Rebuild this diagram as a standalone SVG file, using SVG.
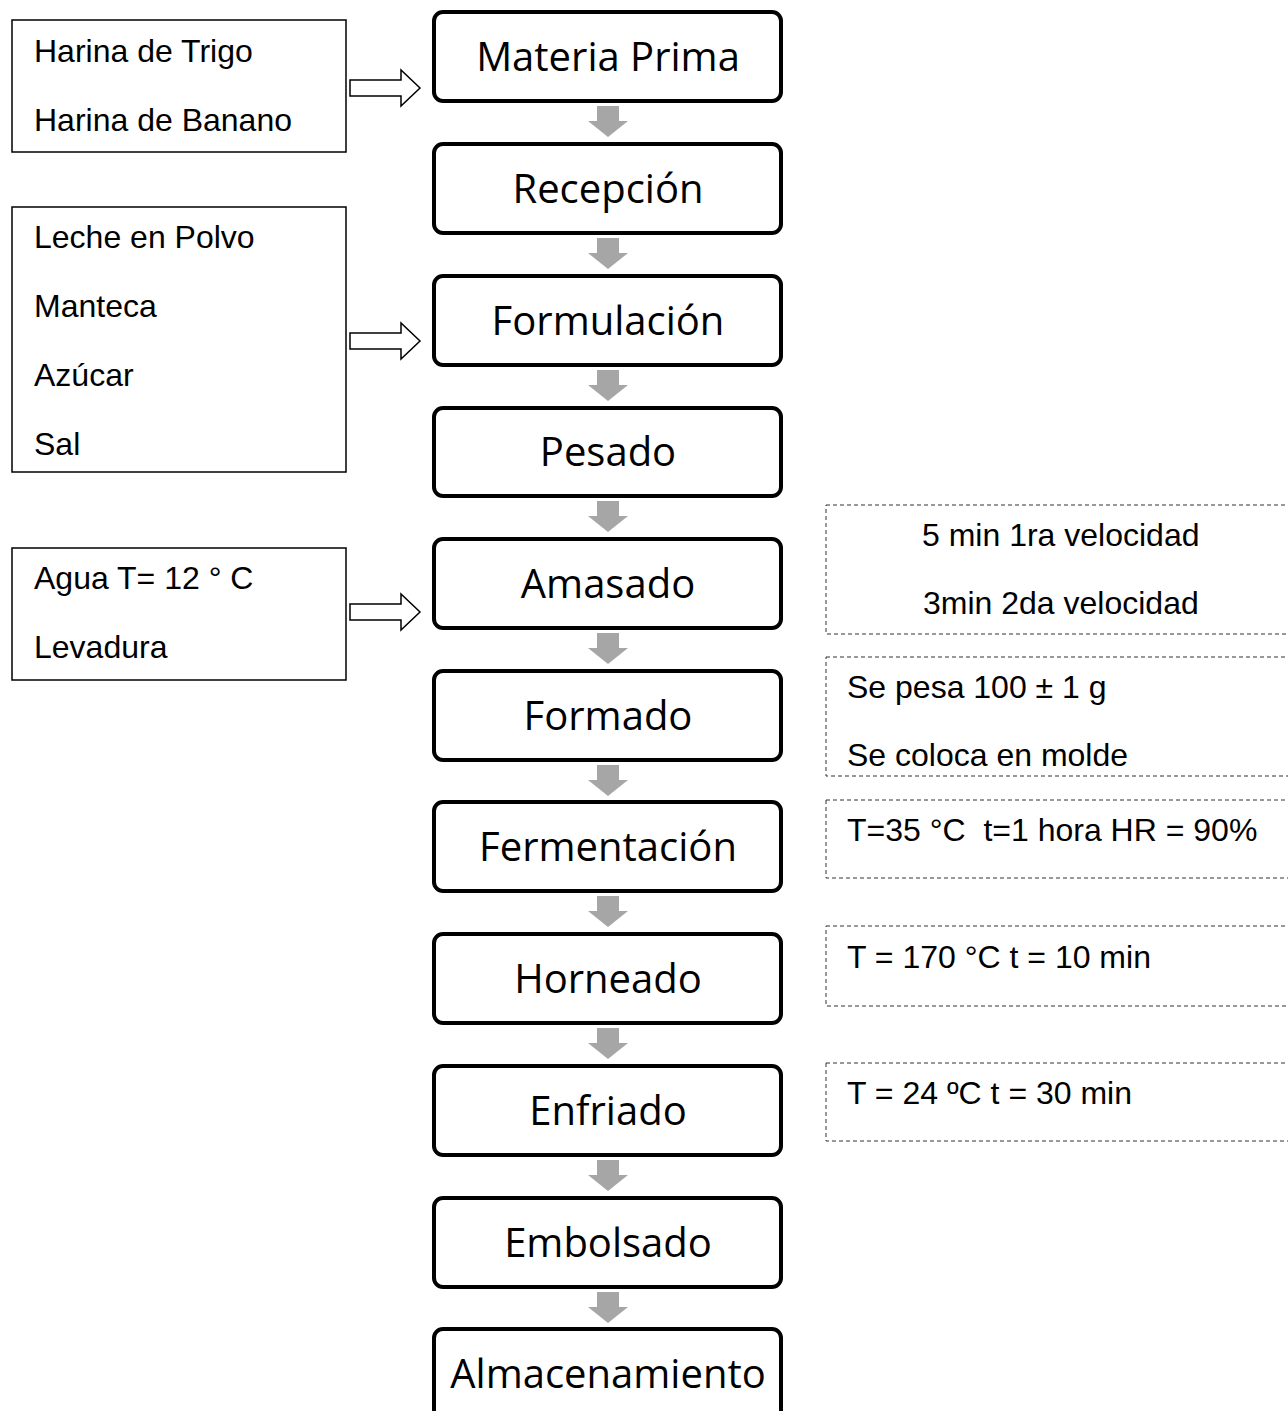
<svg xmlns="http://www.w3.org/2000/svg" width="1288" height="1411" viewBox="0 0 1288 1411">
<defs>
<style>
.step{fill:#fff;stroke:#000;stroke-width:4}
.stxt{font-family:"Open Sans","Noto Sans",sans-serif;font-size:40px;fill:#000;text-anchor:middle}
.inp{fill:#fff;stroke:#000;stroke-width:1.5}
.itxt{font-family:"Liberation Sans",Arial,sans-serif;font-size:32px;fill:#000}
.note{fill:#fff;stroke:#333;stroke-width:1;stroke-dasharray:4 3}
.garrow{fill:#a6a6a6}
.harrow{fill:#fff;stroke:#000;stroke-width:1.5}
</style>
<path id="ga" d="M-11,0 H11 V15 H20 L0,31 L-20,15 H-11 Z"/>
<path id="ha" d="M0,-8 H51 V-18 L70,0 L51,18 V8 H0 Z"/>
</defs>
<g id="connectors">
<use href="#ga" class="garrow" x="608" y="106"/>
<use href="#ga" class="garrow" x="608" y="238"/>
<use href="#ga" class="garrow" x="608" y="370"/>
<use href="#ga" class="garrow" x="608" y="501"/>
<use href="#ga" class="garrow" x="608" y="633"/>
<use href="#ga" class="garrow" x="608" y="765"/>
<use href="#ga" class="garrow" x="608" y="896"/>
<use href="#ga" class="garrow" x="608" y="1028"/>
<use href="#ga" class="garrow" x="608" y="1160"/>
<use href="#ga" class="garrow" x="608" y="1292"/>
<use href="#ha" class="harrow" x="350" y="88"/>
<use href="#ha" class="harrow" x="350" y="341"/>
<use href="#ha" class="harrow" x="350" y="612"/>
</g>
<g id="n-materia"><rect class="step" x="434" y="12" width="347" height="89" rx="9"/><text class="stxt" x="608" y="71">Materia Prima</text></g>
<g id="n-recepcion"><rect class="step" x="434" y="144" width="347" height="89" rx="9"/><text class="stxt" x="608" y="203">Recepción</text></g>
<g id="n-formulacion"><rect class="step" x="434" y="276" width="347" height="89" rx="9"/><text class="stxt" x="608" y="335">Formulación</text></g>
<g id="n-pesado"><rect class="step" x="434" y="408" width="347" height="88" rx="9"/><text class="stxt" x="608" y="466">Pesado</text></g>
<g id="n-amasado"><rect class="step" x="434" y="539" width="347" height="89" rx="9"/><text class="stxt" x="608" y="598">Amasado</text></g>
<g id="n-formado"><rect class="step" x="434" y="671" width="347" height="89" rx="9"/><text class="stxt" x="608" y="730">Formado</text></g>
<g id="n-fermentacion"><rect class="step" x="434" y="802" width="347" height="89" rx="9"/><text class="stxt" x="608" y="861">Fermentación</text></g>
<g id="n-horneado"><rect class="step" x="434" y="934" width="347" height="89" rx="9"/><text class="stxt" x="608" y="993">Horneado</text></g>
<g id="n-enfriado"><rect class="step" x="434" y="1066" width="347" height="89" rx="9"/><text class="stxt" x="608" y="1125">Enfriado</text></g>
<g id="n-embolsado"><rect class="step" x="434" y="1198" width="347" height="89" rx="9"/><text class="stxt" x="608" y="1257">Embolsado</text></g>
<g id="n-almacenamiento"><rect class="step" x="434" y="1329" width="347" height="95" rx="9"/><text class="stxt" x="608" y="1388">Almacenamiento</text></g>
<g id="in-harinas"><rect class="inp" x="12" y="20" width="334" height="132"/><text class="itxt" x="34" y="62">Harina de Trigo</text><text class="itxt" x="34" y="131">Harina de Banano</text></g>
<g id="in-otros"><rect class="inp" x="12" y="207" width="334" height="265"/><text class="itxt" x="34" y="248">Leche en Polvo</text><text class="itxt" x="34" y="317">Manteca</text><text class="itxt" x="34" y="386">Azúcar</text><text class="itxt" x="34" y="455">Sal</text></g>
<g id="in-agua"><rect class="inp" x="12" y="548" width="334" height="132"/><text class="itxt" x="34" y="589">Agua T= 12 ° C</text><text class="itxt" x="34" y="658">Levadura</text></g>
<g id="note-amasado"><rect class="note" x="826" y="505" width="470" height="129"/><text class="itxt" x="922" y="546">5 min 1ra velocidad</text><text class="itxt" x="923" y="614">3min 2da velocidad</text></g>
<g id="note-formado"><rect class="note" x="826" y="657" width="470" height="119"/><text class="itxt" x="847" y="698">Se pesa 100 ± 1 g</text><text class="itxt" x="847" y="766">Se coloca en molde</text></g>
<g id="note-fermentacion"><rect class="note" x="826" y="800" width="470" height="78"/><text class="itxt" x="847" y="841" xml:space="preserve">T=35 °C  t=1 hora HR = 90%</text></g>
<g id="note-horneado"><rect class="note" x="826" y="926" width="470" height="80"/><text class="itxt" x="847" y="968">T = 170 °C t = 10 min</text></g>
<g id="note-enfriado"><rect class="note" x="826" y="1063" width="470" height="78"/><text class="itxt" x="847" y="1104">T = 24 ºC t = 30 min</text></g>
</svg>
